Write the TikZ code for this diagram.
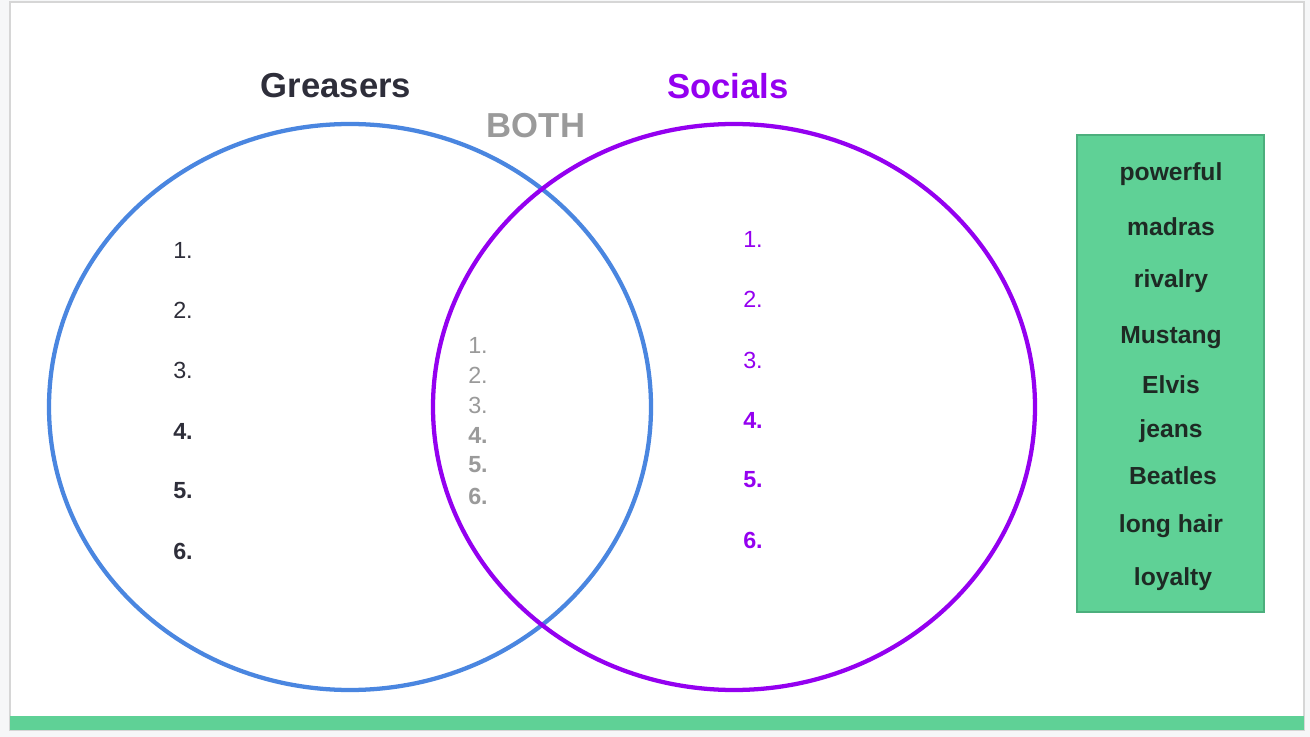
\documentclass[tikz,border=0pt]{standalone}
\usepackage{fontspec}
\setmainfont{Liberation Sans}
\definecolor{bluec}{HTML}{4A86E0}
\definecolor{purplec}{HTML}{9400F0}
\definecolor{greenc}{HTML}{5FD196}
\definecolor{greenb}{HTML}{4CAF7D}
\definecolor{darkt}{HTML}{2E2E3A}
\definecolor{grayt}{HTML}{9A9A9A}
\definecolor{boxt}{HTML}{1E2A24}
\definecolor{outside}{HTML}{F6F7F8}
\definecolor{frame}{HTML}{D6D6D6}
\begin{document}
\begin{tikzpicture}[x=0.75pt,y=-0.75pt,
  title/.style={font=\fontsize{26}{30}\selectfont\bfseries},
  num/.style={font=\fontsize{17.5}{20}\selectfont, anchor=west, inner sep=0pt},
  bnum/.style={num, font=\fontsize{17.5}{20}\selectfont\bfseries},
  word/.style={font=\fontsize{18.5}{22}\selectfont\bfseries, text=boxt, inner sep=0pt},
  ring/.style={line width=3.2pt}]
\useasboundingbox (0,0) rectangle (1310,737);
\fill[outside] (0,0) rectangle (1310,737);
\filldraw[fill=white, draw=frame, line width=0.8pt] (10,2) rectangle (1304,730);
\fill[greenc] (10,716) rectangle (1304,730);
% circles
\draw[ring, bluec] (350,407) ellipse [x radius=301, y radius=283];
\draw[ring, purplec] (734,407) ellipse [x radius=301, y radius=283];
% titles
\node[title, text=darkt] (g) at (336,86) {Greasers};
\node[title, text=purplec] (s) at (728,86) {Socials};
\node[title, text=grayt] (b) at (536,126) {BOTH};
% left list
\node[num, text=darkt] (l1) at (173,250) {1.};
\node[num, text=darkt] (l2) at (173,310) {2.};
\node[num, text=darkt] (l3) at (173,370) {3.};
\node[bnum, text=darkt] (l4) at (173,431) {4.};
\node[bnum, text=darkt] (l5) at (173,491) {5.};
\node[bnum, text=darkt] (l6) at (173,551) {6.};
% middle list
\node[num, text=grayt] (m1) at (468,345) {1.};
\node[num, text=grayt] (m2) at (468,375) {2.};
\node[num, text=grayt] (m3) at (468,405) {3.};
\node[bnum, text=grayt] (m4) at (468,435) {4.};
\node[bnum, text=grayt] (m5) at (468,465) {5.};
\node[bnum, text=grayt] (m6) at (468,496) {6.};
% right list
\node[num, text=purplec] (r1) at (743,239) {1.};
\node[num, text=purplec] (r2) at (743,299) {2.};
\node[num, text=purplec] (r3) at (743,360) {3.};
\node[bnum, text=purplec] (r4) at (743,420) {4.};
\node[bnum, text=purplec] (r5) at (743,480) {5.};
\node[bnum, text=purplec] (r6) at (743,540) {6.};
% word bank
\filldraw[fill=greenc, draw=greenb, line width=0.8pt] (1077,135) rectangle (1264,612);
\node[word] (w1) at (1171,174) {powerful};
\node[word] (w2) at (1171,227) {madras};
\node[word] (w3) at (1171,281) {rivalry};
\node[word] (w4) at (1171,338) {Mustang};
\node[word] (w5) at (1171,385) {Elvis};
\node[word] (w6) at (1171,431) {jeans};
\node[word] (w7) at (1173,476) {Beatles};
\node[word] (w8) at (1171,526) {long hair};
\node[word] (w9) at (1173,579) {loyalty};
\end{tikzpicture}
\end{document}
